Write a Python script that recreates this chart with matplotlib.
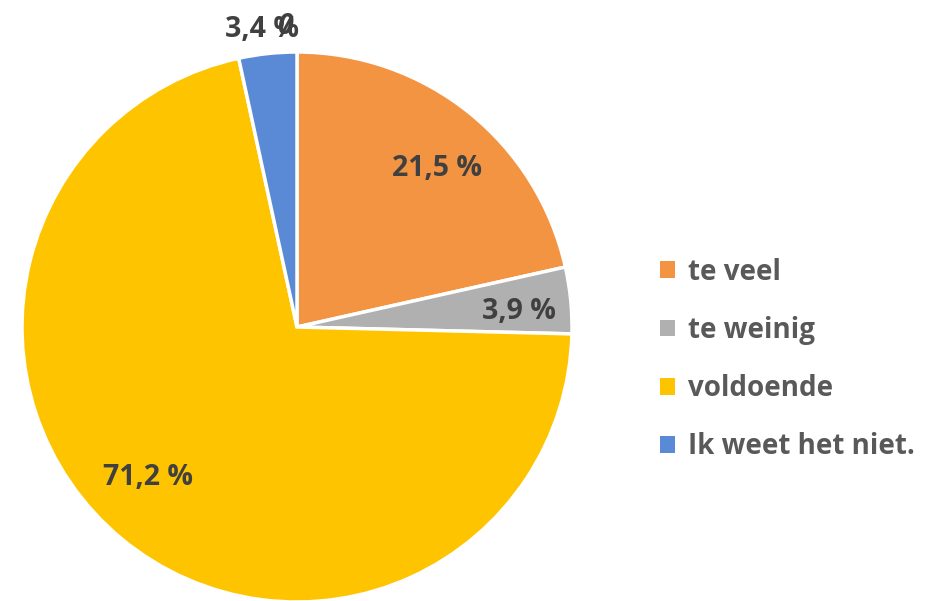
import numpy as np
from matplotlib import pyplot as plt
from matplotlib.patches import Patch

categories = ["te veel", "te weinig", "voldoende", "Ik weet het niet."]
values = [21.5, 3.9, 71.2, 3.4]
colors = ["#F39443", "#B0B0B0", "#FFC400", "#5A8AD6"]
text_color = "#404040"
legend_color = "#595959"
# label placement (radius as fraction of pie radius, angle offset from wedge middle)
label_radius = [0.77, 0.81, 0.77, 1.09]
label_offset = [-2.7, -1.5, -5.2, 0.6]

plt.rcParams["font.family"] = ["Open Sans", "DejaVu Sans"]

fig = plt.figure(figsize=(9.35, 6.01), dpi=100)
# pie centred near (297, 327) px with radius ~275 px
cx, cy, r = 297, 327, 275
ax = fig.add_axes([(cx - r) / 935, (601 - cy - r) / 601, 2 * r / 935, 2 * r / 601])

wedges, texts, autotexts = ax.pie(
    values, colors=colors, startangle=90, counterclock=False,
    autopct=lambda p: f"{p:.1f} %".replace(".", ","),
    wedgeprops=dict(edgecolor="white", linewidth=2.5),
    textprops=dict(color=text_color, fontsize=20.5, fontweight="bold"),
)

for w, t, rad, off in zip(wedges, autotexts, label_radius, label_offset):
    ang = np.deg2rad((w.theta1 + w.theta2) / 2 + off)
    t.set_position((rad * np.cos(ang), rad * np.sin(ang)))

x0, y0 = autotexts[3].get_position()
ax.text(x0 + 0.085, y0 + 0.012, "0", color=text_color, fontsize=20.5, fontweight="bold",
        ha="center", va="center", style="italic")

ax.set_xlim(-1, 1)
ax.set_ylim(-1, 1)
ax.set_aspect("equal")
ax.axis("off")

handles = [Patch(facecolor=c, edgecolor="none") for c in colors]
fig.legend(handles, categories, loc="center left", bbox_to_anchor=(0.679, 0.402),
           frameon=False, handlelength=0.55, handleheight=0.55, handletextpad=0.45,
           labelspacing=1.05, prop=dict(size=20, weight="bold"), labelcolor=legend_color)

fig.savefig("out.png", dpi=100)
